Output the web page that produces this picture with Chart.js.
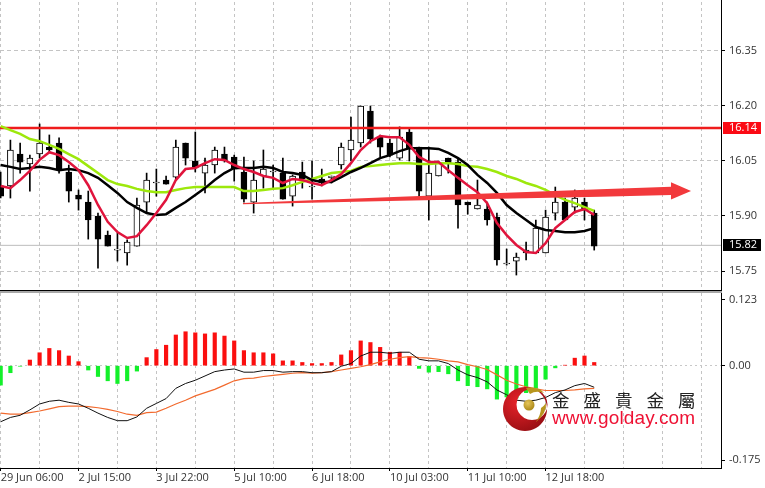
<!DOCTYPE html>
<html>
<head>
<meta charset="utf-8">
<title>MT4 chart</title>
<script src="https://cdn.jsdelivr.net/npm/chart.js@4/dist/chart.umd.min.js"></script>
<style>
  html, body { margin: 0; padding: 0; background: #fff; overflow: hidden; }
  #page { position: relative; width: 765px; height: 488px; overflow: hidden; }
  canvas { position: absolute; left: 0; }
  #priceChart { top: -10px; }
  #macdChart { top: 292px; }
  #divider { position: absolute; left: 0; top: 291px; width: 722px; height: 2px; background: #a8a8a8; }
  #logo { position: absolute; left: 500px; top: 384px; }
  .brand { position: absolute; white-space: nowrap; }
  #brandCn { left: 552px; top: 387px; font: 17.5px "Noto Sans CJK TC"; letter-spacing: 14px; color: #222; }
  #brandEn { left: 552px; top: 407px; font: 19px "Liberation Sans"; letter-spacing: 0.15px; color: #ee1133; }
</style>
</head>
<body>
<div id="page">
  <canvas id="priceChart" width="765" height="301"></canvas>
  <canvas id="macdChart" width="765" height="196"></canvas>
  <div id="divider"></div>
  <svg id="logo" width="54" height="50" viewBox="0 0 54 50">
    <defs>
      <radialGradient id="redBall" cx="0.35" cy="0.35" r="0.8">
        <stop offset="0" stop-color="#e8222a"/>
        <stop offset="1" stop-color="#8e0c10"/>
      </radialGradient>
      <radialGradient id="goldBall" cx="0.4" cy="0.35" r="0.7">
        <stop offset="0" stop-color="#e6c65a"/>
        <stop offset="1" stop-color="#a88414"/>
      </radialGradient>
    </defs>
    <path fill="url(#redBall)" fill-rule="evenodd"
      d="M25 3a22 22 0 1 0 0.01 0Z M32 5a15.5 15.5 0 1 0 0.01 0Z"/>
    <circle cx="29" cy="21" r="5.5" fill="url(#goldBall)"/>
    <path fill="#b8961e" d="M26 4q12 -2 18 5q-8 -3 -14 1q-2 -3 -4 -6Z"/>
    <path fill="#b8961e" d="M46 19q1 10 -10 19q5 -8 5 -14q3 -2 5 -5Z"/>
  </svg>
  <div class="brand" id="brandCn">金盛貴金屬</div>
  <div class="brand" id="brandEn">www.golday.com</div>
</div>
<script>
const opens = [15.982,15.982,16.069,16.042,16.069,16.087,16.099,16.020,15.957,15.938,15.900,15.848,15.807,15.799,15.818,15.938,15.990,15.998,16.006,16.099,16.050,16.017,16.039,16.069,16.061,16.020,15.938,16.009,16.020,16.017,15.954,16.020,15.979,16.001,16.004,16.039,16.080,16.099,16.186,16.115,16.099,16.058,16.129,16.088,15.954,16.009,16.058,16.047,15.938,15.919,15.919,15.897,15.769,15.777,15.799,15.799,15.799,15.908,15.938,15.924,15.938,15.908];
const highs = [16.020,16.107,16.099,16.066,16.151,16.121,16.113,16.039,15.971,15.968,15.908,15.859,15.854,15.835,15.949,16.017,16.028,16.009,16.107,16.099,16.129,16.058,16.088,16.088,16.066,16.061,16.050,16.080,16.039,16.058,16.012,16.047,16.050,16.028,16.009,16.099,16.170,16.200,16.200,16.121,16.110,16.143,16.137,16.088,16.088,16.050,16.058,16.058,15.938,15.998,15.938,15.908,15.810,15.799,15.829,15.889,15.916,15.979,15.949,15.971,15.949,15.916];
const lows = [15.949,15.949,16.017,15.968,16.058,16.072,16.017,15.938,15.916,15.837,15.758,15.818,15.777,15.766,15.818,15.908,15.954,15.987,15.998,16.039,16.020,15.963,16.017,16.047,15.995,15.938,15.908,15.976,15.976,15.946,15.927,15.976,15.946,15.982,15.990,16.028,16.050,16.088,16.099,16.061,16.061,16.053,16.050,15.952,15.889,16.009,16.017,15.867,15.905,15.919,15.875,15.766,15.766,15.739,15.780,15.799,15.799,15.889,15.889,15.908,15.889,15.807];
const closes = [15.954,16.080,16.047,16.058,16.099,16.080,16.028,15.968,15.946,15.889,15.837,15.818,15.807,15.829,15.930,15.998,15.990,15.987,16.088,16.058,16.031,16.039,16.080,16.050,16.028,15.946,15.998,16.028,16.020,15.946,16.009,16.001,15.979,15.990,16.009,16.088,16.107,16.200,16.110,16.088,16.066,16.115,16.085,15.968,16.017,16.044,16.044,15.930,15.930,15.930,15.889,15.780,15.769,15.788,15.807,15.867,15.897,15.938,15.889,15.949,15.916,15.818];

const maFast = [15.982,15.976,15.998,16.023,16.053,16.074,16.066,16.047,16.025,15.984,15.930,15.884,15.856,15.840,15.845,15.875,15.908,15.944,15.998,16.028,16.031,16.044,16.055,16.053,16.039,16.028,16.020,16.009,16.004,15.990,16.001,15.998,15.990,15.984,15.998,16.014,16.044,16.080,16.104,16.118,16.115,16.115,16.094,16.061,16.047,16.047,16.025,16.004,15.984,15.965,15.935,15.881,15.848,15.821,15.802,15.799,15.826,15.867,15.889,15.911,15.919,15.903];
const maMid = [16.039,16.034,16.028,16.031,16.034,16.031,16.025,16.028,16.025,16.017,16.004,15.984,15.963,15.938,15.922,15.908,15.903,15.905,15.922,15.938,15.957,15.976,15.998,16.017,16.031,16.031,16.031,16.034,16.031,16.020,16.017,16.012,15.998,15.993,15.993,16.006,16.020,16.031,16.044,16.058,16.066,16.077,16.085,16.085,16.085,16.083,16.072,16.058,16.039,16.012,15.990,15.963,15.930,15.908,15.889,15.870,15.862,15.859,15.856,15.856,15.859,15.867];
const maSlow = [16.145,16.134,16.124,16.110,16.104,16.094,16.083,16.069,16.055,16.036,16.017,15.998,15.987,15.982,15.974,15.968,15.965,15.965,15.971,15.976,15.979,15.979,15.979,15.979,15.979,15.968,15.968,15.971,15.974,15.976,15.984,15.993,16.001,16.009,16.017,16.020,16.023,16.034,16.036,16.039,16.042,16.044,16.044,16.042,16.042,16.044,16.044,16.042,16.036,16.034,16.028,16.020,16.009,16.001,15.990,15.982,15.971,15.957,15.944,15.935,15.924,15.914];

const histogram = [-0.036,-0.013,-0.001,0.0105,0.024,0.032,0.028,0.018,0.0075,-0.008,-0.020,-0.028,-0.033,-0.028,-0.010,0.015,0.030,0.038,0.057,0.063,0.061,0.059,0.061,0.055,0.046,0.028,0.024,0.024,0.022,0.009,0.009,0.006,0.004,0.004,0.006,0.020,0.028,0.046,0.043,0.034,0.025,0.025,0.017,-0.005,-0.012,-0.011,-0.015,-0.028,-0.037,-0.039,-0.043,-0.062,-0.058,-0.060,-0.050,-0.042,-0.025,-0.004,0.001,0.014,0.018,0.006];
const macdLine = [-0.104,-0.096,-0.092,-0.082,-0.071,-0.066,-0.064,-0.068,-0.071,-0.079,-0.088,-0.096,-0.102,-0.102,-0.095,-0.079,-0.070,-0.061,-0.042,-0.033,-0.027,-0.019,-0.011,-0.008,-0.006,-0.012,-0.012,-0.009,-0.009,-0.012,-0.011,-0.011,-0.013,-0.013,-0.011,-0.001,0.004,0.018,0.025,0.025,0.023,0.025,0.025,0.012,0.009,0.009,0.004,-0.008,-0.017,-0.022,-0.030,-0.045,-0.054,-0.064,-0.066,-0.064,-0.059,-0.050,-0.045,-0.037,-0.033,-0.040];
const signalLine = [-0.088,-0.090,-0.090,-0.087,-0.084,-0.080,-0.076,-0.075,-0.075,-0.076,-0.078,-0.081,-0.085,-0.090,-0.092,-0.087,-0.086,-0.079,-0.071,-0.064,-0.056,-0.050,-0.044,-0.036,-0.028,-0.024,-0.023,-0.020,-0.018,-0.016,-0.014,-0.013,-0.014,-0.013,-0.011,-0.008,-0.005,-0.002,0.002,0.007,0.012,0.015,0.017,0.015,0.014,0.012,0.009,0.007,0.002,-0.002,-0.007,-0.017,-0.027,-0.034,-0.039,-0.043,-0.046,-0.046,-0.046,-0.045,-0.043,-0.042];

const priceTicks = [15.75, 15.90, 16.05, 16.20, 16.35, 16.50];
const macdTicks = [-0.175, 0, 0.123];
const macdTickLabels = ['-0.175', '0.00', '0.123'];
const gridBars = [0,4,8,12,16,20,24,28,32,36,40,44,48,52,56,60,64,68,72];
const timeBars = [0,8,16,24,32,40,48,56];
const timeLabels = ['29 Jun 06:00','2 Jul 15:00','3 Jul 22:00','5 Jul 10:00','6 Jul 18:00','10 Jul 03:00','11 Jul 10:00','12 Jul 18:00'];

const resistance = 16.14;
const lastPrice = 15.82;
const tagValues = [16.14, 15.82];
const tagLabels = ['16.14', '15.82'];
const tagColors = ['#fb0a14', '#000000'];

// trend arrow outline, in bars and price
const arrowBars = [24.9,41.04,61.59,68.89,68.89,70.95,68.89,68.89,61.59,41.04,24.9,24.9];
const arrowPrices = [15.9355,15.9526,15.9728,15.9799,15.9919,15.9682,15.945,15.9573,15.9526,15.9415,15.9322,15.9355];

const xMin = -0.07, xMax = 74.03;
const axisFont = { family: 'Open Sans', size: 11 };
const textColor = '#333';
const gridColor = '#c4c4c4';

const bars = opens.map((_, i) => i);
const points = (values) => values.map((v, i) => ({ x: i, y: v }));
const lineSet = (values, color, width, order) => ({
  type: 'line', data: points(values), borderColor: color, borderWidth: width,
  pointRadius: 0, tension: 0, order
});
const levelSet = (value, color, width, order) => ({
  type: 'line', data: [{ x: xMin, y: value }, { x: xMax, y: value }],
  borderColor: color, borderWidth: width, pointRadius: 0, order
});

// the axes may not reserve room for half-labels, the panes fill the canvas
const noPadding = (scale) => {
  scale.paddingTop = 0; scale.paddingBottom = 0;
  scale.paddingLeft = 0; scale.paddingRight = 0;
};

const xAxis = (showLabels) => ({
  type: 'linear', min: xMin, max: xMax, offset: false,
  afterBuildTicks: (scale) => { scale.ticks = gridBars.map(v => ({ value: v })); },
  afterFit: (scale) => { scale.height = showLabels ? 20 : 1; noPadding(scale); },
  border: { color: '#000', display: true, dash: [3, 3] },
  grid: {
    offset: false, color: gridColor, lineWidth: 1, drawTicks: showLabels, tickLength: 3,
    tickBorderDash: [], tickColor: (ctx) => timeBars.includes(ctx.tick.value) ? '#000' : 'transparent'
  },
  ticks: {
    display: showLabels, autoSkip: false, maxRotation: 0, align: 'start', padding: 0,
    font: axisFont, color: textColor,
    callback: (v) => { const k = timeBars.indexOf(v); return k < 0 ? '' : timeLabels[k]; }
  }
});

const tagPlugin = {
  id: 'priceTags',
  afterDraw(chart) {
    const { ctx, scales } = chart;
    tagValues.forEach((v, i) => {
      const y = Math.round(scales.y.getPixelForValue(v));
      ctx.fillStyle = tagColors[i];
      ctx.fillRect(723, y - 6, 38, 12);
      ctx.fillStyle = '#fff';
      ctx.font = '11px "Open Sans"';
      ctx.textAlign = 'left';
      ctx.textBaseline = 'middle';
      ctx.fillText(tagLabels[i], 729, y);
    });
  }
};

new Chart(document.getElementById('priceChart'), {
  type: 'bar',
  data: {
    datasets: [
      { label: 'wick', data: bars.map(i => ({ x: i, y: [lows[i], highs[i]] })), backgroundColor: '#000', barThickness: 1, grouped: false, order: 7 },
      { label: 'body', data: bars.map(i => ({ x: i, y: [opens[i], closes[i]] })),
        backgroundColor: bars.map(i => closes[i] < opens[i] ? '#000' : '#fff'),
        borderColor: '#000', borderWidth: 1, borderSkipped: false, barThickness: 6, minBarLength: 1, grouped: false, order: 6 },
      levelSet(lastPrice, '#bcbcbc', 1, 8),
      levelSet(resistance, '#ef1c1c', 2.5, 5),
      lineSet(maSlow, '#9de80c', 2.5, 4),
      lineSet(maMid, '#000', 2.5, 3),
      lineSet(maFast, '#e0143c', 2.5, 2),
      { type: 'line', data: arrowBars.map((b, i) => ({ x: b, y: arrowPrices[i] })), borderWidth: 0, backgroundColor: '#f2393c', fill: 'shape', pointRadius: 0, order: 1 }
    ]
  },
  options: {
    responsive: false, animation: false, devicePixelRatio: 1,
    layout: { padding: 0 },
    plugins: { legend: { display: false }, tooltip: { enabled: false } },
    scales: {
      x: { ...xAxis(false), grid: { ...xAxis(false).grid, drawTicks: false } },
      y: {
        position: 'right', min: 15.6982, max: 16.5163,
        afterBuildTicks: (scale) => { scale.ticks = priceTicks.map(v => ({ value: v })); },
        afterFit: (scale) => { scale.width = 44; noPadding(scale); },
        border: { color: '#000', display: true, dash: [4, 3] },
        grid: { color: gridColor, tickLength: 4, tickColor: '#000', tickBorderDash: [] },
        ticks: { font: axisFont, color: textColor, padding: 4, callback: (v) => v.toFixed(2) }
      }
    }
  },
  plugins: [tagPlugin]
});

new Chart(document.getElementById('macdChart'), {
  type: 'bar',
  data: {
    datasets: [
      { label: 'histogram', data: points(histogram),
        backgroundColor: histogram.map(v => v < 0 ? '#13f02a' : '#fb0f0f'),
        barThickness: 3.5, grouped: false, order: 3 },
      lineSet(signalLine, '#f26a2e', 1.2, 2),
      lineSet(macdLine, '#111', 1, 1)
    ]
  },
  options: {
    responsive: false, animation: false, devicePixelRatio: 1,
    layout: { padding: { top: 1 } },
    plugins: { legend: { display: false }, tooltip: { enabled: false } },
    scales: {
      x: xAxis(true),
      y: {
        position: 'right', min: -0.1898, max: 0.1349,
        afterBuildTicks: (scale) => { scale.ticks = macdTicks.map(v => ({ value: v })); },
        afterFit: (scale) => { scale.width = 44; noPadding(scale); },
        border: { color: '#000', display: true, dash: [2, 3] },
        grid: { color: (ctx) => ctx.tick && ctx.tick.value === 0 ? '#c8c8c8' : 'transparent', tickLength: 4, tickColor: '#000', tickBorderDash: [] },
        ticks: { font: axisFont, color: textColor, padding: 4,
          callback: (v) => macdTickLabels[macdTicks.indexOf(v)] }
      }
    }
  }
});
</script>
</body>
</html>
